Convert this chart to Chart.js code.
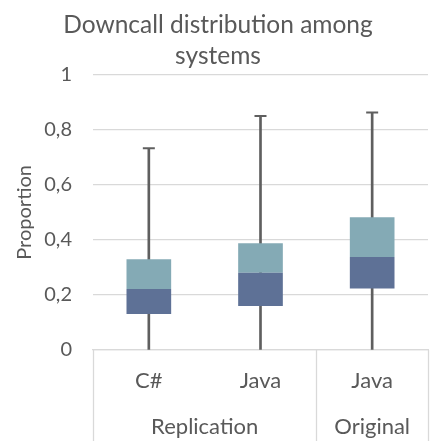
<!DOCTYPE html>
<html>
<head>
<meta charset="utf-8">
<script src="https://cdn.jsdelivr.net/npm/chart.js@4"></script>
<style>
  html, body { margin: 0; padding: 0; overflow: hidden; background: #fff; }
  #wrap { width: 436px; height: 441px; }
</style>
</head>
<body>
<div id="wrap"><canvas id="c"></canvas></div>
<script>
const categories = ['C#', 'Java', 'Java'];
const groups = ['Replication', 'Original'];
const groupSpans = [2, 1];
const minVals = [0, 0, 0];
const q1Vals = [0.131, 0.160, 0.223];
const medianVals = [0.222, 0.281, 0.338];
const q3Vals = [0.330, 0.388, 0.482];
const maxVals = [0.733, 0.850, 0.863];
const yTicks = [0, 0.2, 0.4, 0.6, 0.8, 1];

const FONT = 'Lato, "Open Sans", sans-serif';
const TXT = '#595959';
const GRID = '#d9d9d9';

const groupAxis = {
  id: 'groupAxis',
  afterDraw(chart) {
    const x = chart.scales.x, ctx = chart.ctx, area = chart.chartArea;
    const step = x.getPixelForValue(1) - x.getPixelForValue(0);
    const bottom = chart.height;
    ctx.save();
    ctx.strokeStyle = GRID;
    ctx.lineWidth = 1.3;
    let idx = 0;
    const bounds = [x.getPixelForValue(0) - step / 2];
    groups.forEach((g, gi) => {
      const start = idx, end = idx + groupSpans[gi] - 1;
      const left = x.getPixelForValue(start) - step / 2;
      const right = x.getPixelForValue(end) + step / 2;
      bounds.push(right);
      ctx.fillStyle = TXT;
      ctx.font = '22px ' + FONT;
      ctx.textAlign = 'center';
      ctx.textBaseline = 'middle';
      ctx.fillText(g, (left + right) / 2, 427);
      idx = end + 1;
    });
    bounds.forEach(b => {
      ctx.beginPath();
      ctx.moveTo(Math.round(b) + 0.5, area.bottom);
      ctx.lineTo(Math.round(b) + 0.5, bottom);
      ctx.stroke();
    });
    ctx.restore();
  }
};

new Chart(document.getElementById('c'), {
  data: {
    labels: categories,
    datasets: [
      {
        type: 'bar',
        label: 'Q1-Median',
        data: categories.map((_, i) => [q1Vals[i], medianVals[i]]),
        backgroundColor: '#5e7196',
        borderWidth: 0,
        grouped: false,
        barPercentage: 0.4,
        categoryPercentage: 1,
        order: 1
      },
      {
        type: 'bar',
        label: 'Median-Q3',
        data: categories.map((_, i) => [medianVals[i], q3Vals[i]]),
        backgroundColor: '#84aab5',
        borderWidth: 0,
        grouped: false,
        barPercentage: 0.4,
        categoryPercentage: 1,
        order: 1
      },
      {
        type: 'bar',
        label: 'Whisker',
        data: categories.map((_, i) => [minVals[i], maxVals[i]]),
        backgroundColor: '#5f5f5f',
        grouped: false,
        barThickness: 2,
        order: 3
      },
      {
        type: 'line',
        label: 'Max cap',
        data: maxVals,
        showLine: false,
        pointStyle: 'line',
        pointRadius: 6,
        pointHoverRadius: 6,
        pointBorderWidth: 2,
        borderColor: '#5f5f5f',
        order: 2
      }
    ]
  },
  options: {
    responsive: true,
    maintainAspectRatio: false,
    animation: false,
    layout: { padding: { top: 0, right: 0, bottom: 0, left: 0 } },
    plugins: {
      legend: { display: false },
      tooltip: { enabled: false },
      title: {
        display: true,
        text: ['Downcall distribution among', 'systems'],
        color: TXT,
        font: { family: FONT, size: 24.5, weight: 'normal', lineHeight: 1.25 },
        padding: { top: 10, bottom: 3.5 }
      }
    },
    scales: {
      x: {
        type: 'category',
        grid: { display: false, drawTicks: false },
        border: { display: true, color: GRID, width: 1.3 },
        ticks: { color: TXT, font: { family: FONT, size: 22 }, padding: 18, maxRotation: 0 },
        afterFit(scale) { scale.height = 91; }
      },
      y: {
        min: 0, max: 1,
        afterBuildTicks(scale) { scale.ticks = yTicks.map(v => ({ value: v })); },
        grid: { color: GRID, lineWidth: 1.3, drawTicks: false },
        border: { display: false },
        ticks: {
          color: TXT,
          font: { family: FONT, size: 20 },
          padding: 21,
          callback: v => String(v).replace('.', ',')
        },
        title: {
          display: true,
          text: 'Proportion',
          color: TXT,
          font: { family: FONT, size: 20 },
          padding: { top: 13, bottom: 0 }
        },
        afterFit(scale) { scale.width = 93; }
      }
    }
  },
  plugins: [groupAxis]
});
</script>
</body>
</html>
